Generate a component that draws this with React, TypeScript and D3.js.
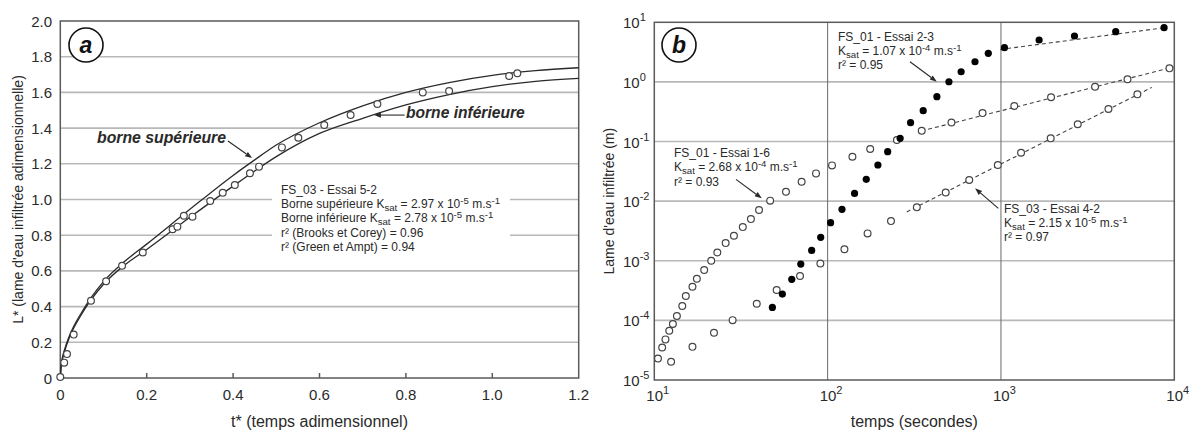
import React from 'react';
import * as d3 from 'd3';

// ---------- Panel a data ----------
const tStar = [0, 0.009, 0.0155, 0.031, 0.071, 0.106, 0.143, 0.191, 0.26, 0.271, 0.286, 0.306, 0.347, 0.376, 0.404, 0.439, 0.46, 0.513, 0.551, 0.611, 0.672, 0.734, 0.839, 0.9, 1.039, 1.058];
const lStar = [0.006, 0.086, 0.134, 0.243, 0.433, 0.542, 0.629, 0.703, 0.833, 0.848, 0.909, 0.904, 0.992, 1.038, 1.081, 1.147, 1.184, 1.292, 1.346, 1.417, 1.473, 1.535, 1.6, 1.608, 1.692, 1.707];
const upperT = [0, 0.002, 0.005, 0.01, 0.02, 0.05, 0.1, 0.15, 0.2, 0.3, 0.4, 0.45, 0.5, 0.6, 0.7, 0.8, 0.9, 1.0, 1.1, 1.2];
const upperL = [0, 0.07, 0.115, 0.16, 0.23, 0.37, 0.54, 0.655, 0.75, 0.945, 1.135, 1.222, 1.305, 1.43, 1.525, 1.6, 1.655, 1.695, 1.722, 1.738];
const lowerT = [0, 0.002, 0.005, 0.01, 0.02, 0.05, 0.1, 0.15, 0.2, 0.3, 0.4, 0.45, 0.5, 0.6, 0.7, 0.8, 0.9, 1.0, 1.1, 1.2];
const lowerL = [0, 0.065, 0.105, 0.15, 0.22, 0.36, 0.525, 0.635, 0.72, 0.9, 1.075, 1.16, 1.24, 1.37, 1.455, 1.53, 1.588, 1.632, 1.662, 1.679];
const xTicksA = [0, 0.2, 0.4, 0.6, 0.8, 1.0, 1.2];
const xTickLabelsA = ['0', '0.2', '0.4', '0.6', '0.8', '1.0', '1.2'];
const yTicksA = [0, 0.2, 0.4, 0.6, 0.8, 1.0, 1.2, 1.4, 1.6, 1.8, 2.0];
const yTickLabelsA = ['0', '0.2', '0.4', '0.6', '0.8', '1.0', '1.2', '1.4', '1.6', '1.8', '2.0'];

// ---------- Panel b data ----------
const essai16T = [10.5, 11.1, 11.6, 12.2, 12.8, 13.5, 14.5, 15.2, 16.6, 17.6, 19.4, 21.3, 23.1, 25.8, 28.8, 32.4, 36.1, 40.2, 46.6, 57.5, 70.8, 85.7, 106, 139, 176, 251, 349, 518, 783, 1194, 1945, 3491, 5370, 9376];
const essai16L = [2.3e-5, 3.5e-5, 4.8e-5, 6.7e-5, 8.7e-5, 1.18e-4, 1.74e-4, 2.56e-4, 3.66e-4, 5.0e-4, 7.0e-4, 1.0e-3, 1.38e-3, 1.98e-3, 2.63e-3, 3.67e-3, 5.0e-3, 7.1e-3, 1.02e-2, 1.44e-2, 2.12e-2, 2.92e-2, 3.98e-2, 5.56e-2, 7.48e-2, 0.106, 0.151, 0.209, 0.30, 0.394, 0.552, 0.832, 1.107, 1.69];
const essai23T = [48.0, 54.8, 62.1, 70.0, 80.9, 91.2, 104, 121, 143, 167, 195, 222, 262, 301, 356, 427, 501, 589, 708, 845, 1047, 1660, 2655, 4592, 8730];
const essai23L = [1.65e-4, 2.76e-4, 4.88e-4, 8.8e-4, 1.49e-3, 2.47e-3, 4.35e-3, 7.28e-3, 1.35e-2, 2.32e-2, 4.04e-2, 6.75e-2, 0.113, 0.207, 0.329, 0.565, 1.007, 1.48, 2.18, 3.02, 3.76, 5.05, 5.89, 6.95, 8.11];
const essai42T = [12.5, 16.6, 22.1, 28.3, 39.0, 50.8, 69.3, 90.8, 125, 170, 232, 327, 480, 656, 959, 1306, 1936, 2773, 4169, 6124];
const essai42L = [2.02e-5, 3.6e-5, 6.2e-5, 1.01e-4, 1.9e-4, 3.24e-4, 5.56e-4, 9.0e-4, 1.56e-3, 2.88e-3, 4.63e-3, 7.87e-3, 1.40e-2, 2.26e-2, 4.04e-2, 6.49e-2, 0.113, 0.195, 0.351, 0.619];
const fit16T = [347, 9900];
const fit16L = [0.15, 1.78];
const fit23T = [990, 8730];
const fit23L = [3.5, 8.1];
const fit42T = [286, 7413];
const fit42L = [6.6e-3, 0.81];
const xTicksB = [10, 100, 1000, 10000];
const xExpB = ['1', '2', '3', '4'];
const yTicksB = [1e-5, 1e-4, 1e-3, 1e-2, 1e-1, 1, 10];
const yExpB = ['-5', '-4', '-3', '-2', '-1', '0', '1'];

const FONT = '"Liberation Sans", Arial, Helvetica, sans-serif';
const GRID = '#b8b8b8';
const FRAME = '#5a5a5a';
const INK = '#2a2a2a';

type Seg = { t: string; k?: 'sub' | 'sup' };

function Rich({ x, y, segs, size = 12 }: { x: number; y: number; segs: Seg[]; size?: number }) {
  let cur = 0;
  const parts = segs.map((s, i) => {
    const target = s.k === 'sub' ? size * 0.22 : s.k === 'sup' ? -size * 0.3 : 0;
    const dy = target - cur;
    cur = target;
    return (
      <tspan key={i} dy={dy} fontSize={s.k ? size * 0.8 : size}>
        {s.t}
      </tspan>
    );
  });
  return (
    <text x={x} y={y} fontSize={size} fill={INK} fontFamily={FONT}>
      {parts}
    </text>
  );
}

function Arrow({ x1, y1, x2, y2 }: { x1: number; y1: number; x2: number; y2: number }) {
  const ang = Math.atan2(y2 - y1, x2 - x1);
  const L = 7, W = 2.6;
  const bx = x2 - L * Math.cos(ang), by = y2 - L * Math.sin(ang);
  const p1 = [bx + W * Math.sin(ang), by - W * Math.cos(ang)];
  const p2 = [bx - W * Math.sin(ang), by + W * Math.cos(ang)];
  return (
    <g>
      <line x1={x1} y1={y1} x2={bx} y2={by} stroke={INK} strokeWidth={1.1} />
      <path d={`M${x2},${y2}L${p1[0]},${p1[1]}L${p2[0]},${p2[1]}Z`} fill={INK} />
    </g>
  );
}

export default function App() {
  // Panel a scales
  const xa = d3.scaleLinear().domain([0, 1.2]).range([60.3, 578.7]);
  const ya = d3.scaleLinear().domain([0, 2]).range([378, 21]);
  const mkCurve = (T: number[], Lv: number[]) =>
    d3
      .line<[number, number]>()
      .x((d) => xa(d[0]))
      .y((d) => ya(d[1]))
      .curve(d3.curveMonotoneX)(T.map((t, i) => [t, Lv[i]] as [number, number])) || '';

  // Panel b scales
  const xb = d3.scaleLog().domain([10, 10000]).range([654.3, 1174.3]);
  const yb = d3.scaleLog().domain([1e-5, 10]).range([380, 22.3]);
  const fitPath = (T: number[], Lv: number[]) =>
    d3
      .line<[number, number]>()
      .x((d) => xb(d[0]))
      .y((d) => yb(d[1]))(T.map((t, i) => [t, Lv[i]] as [number, number])) || '';

  const aLeft = xa(0), aRight = xa(1.2), aTop = ya(2), aBot = ya(0);
  const bLeft = xb(10), bRight = xb(10000), bTop = yb(10), bBot = yb(1e-5);

  const ksat = (v: string, e: string): Seg[] => [
    { t: 'K' },
    { t: 'sat', k: 'sub' },
    { t: ` = ${v} x 10` },
    { t: e, k: 'sup' },
    { t: ' m.s' },
    { t: '-1', k: 'sup' },
  ];

  return (
    <svg
      width={1192}
      height={430}
      style={{ position: 'absolute', left: 0, top: 0, background: '#fff' }}
      fontFamily={FONT}
    >
      <rect x={0} y={0} width={1192} height={430} fill="#fff" />

      {/* ================= Panel a ================= */}
      <g>
        {yTicksA.slice(1, -1).map((v) => (
          <line key={v} x1={aLeft} x2={aRight} y1={ya(v)} y2={ya(v)} stroke={GRID} strokeWidth={1.6} />
        ))}
        {/* white box behind annotation */}
        <rect x={272} y={183} width={238} height={72} fill="#fff" />
        {/* frame */}
        <rect x={aLeft} y={aTop} width={aRight - aLeft} height={aBot - aTop} fill="none" stroke={FRAME} strokeWidth={1.5} />
        {/* x ticks */}
        {xTicksA.slice(1, -1).map((v) => (
          <line key={v} x1={xa(v)} x2={xa(v)} y1={aBot} y2={aBot - 5} stroke={FRAME} strokeWidth={1.5} />
        ))}
        {xTicksA.map((v, i) => (
          <text key={v} x={xa(v)} y={aBot + 22} textAnchor="middle" fontSize={15} fill={INK}>
            {xTickLabelsA[i]}
          </text>
        ))}
        {yTicksA.map((v, i) => (
          <text key={v} x={52} y={ya(v) + 5.5} textAnchor="end" fontSize={15} fill={INK}>
            {yTickLabelsA[i]}
          </text>
        ))}
        <text x={(aLeft + aRight) / 2} y={427} textAnchor="middle" fontSize={16} fill={INK}>
          t* (temps adimensionnel)
        </text>
        <text
          transform={`translate(23,${(aTop + aBot) / 2}) rotate(-90)`}
          textAnchor="middle"
          fontSize={14}
          fill={INK}
        >
          L* (lame d'eau infiltrée adimensionnelle)
        </text>

        {/* curves */}
        <path d={mkCurve(upperT, upperL)} fill="none" stroke={INK} strokeWidth={1.3} />
        <path d={mkCurve(lowerT, lowerL)} fill="none" stroke={INK} strokeWidth={1.3} />
        {/* points */}
        {tStar.map((t, i) => (
          <circle key={i} cx={xa(t)} cy={ya(lStar[i])} r={3.4} fill="#fff" stroke="#444" strokeWidth={1.2} />
        ))}

        {/* labels */}
        <text x={97} y={143} fontSize={15.8} fontWeight="bold" fontStyle="italic" fill={INK}>
          borne supérieure
        </text>
        <Arrow x1={xa(0.388)} y1={ya(1.328)} x2={xa(0.444)} y2={ya(1.232)} />
        <text x={406} y={118} fontSize={15.6} fontWeight="bold" fontStyle="italic" fill={INK}>
          borne inférieure
        </text>
        <Arrow x1={xa(0.797)} y1={ya(1.473)} x2={xa(0.726)} y2={ya(1.473)} />

        <Rich x={281} y={194} segs={[{ t: 'FS_03 - Essai 5-2' }]} />
        <Rich x={281} y={208} segs={[{ t: 'Borne supérieure ' }, ...ksat('2.97', '-5')]} />
        <Rich x={281} y={222} segs={[{ t: 'Borne inférieure ' }, ...ksat('2.78', '-5')]} />
        <Rich x={281} y={237} segs={[{ t: 'r² (Brooks et Corey) = 0.96' }]} />
        <Rich x={281} y={251} segs={[{ t: 'r² (Green et Ampt) = 0.94' }]} />

        {/* panel letter */}
        <circle cx={86} cy={45} r={17} fill="#fff" stroke="#111" strokeWidth={1.6} />
        <text x={86} y={53} textAnchor="middle" fontSize={23} fontWeight="bold" fontStyle="italic" fill="#111">
          a
        </text>
      </g>

      {/* ================= Panel b ================= */}
      <g>
        {yTicksB.slice(1, -1).map((v) => (
          <line key={v} x1={bLeft} x2={bRight} y1={yb(v)} y2={yb(v)} stroke={GRID} strokeWidth={1.6} />
        ))}
        {xTicksB.slice(1, -1).map((v) => (
          <line key={v} x1={xb(v)} x2={xb(v)} y1={bTop} y2={bBot} stroke="#6a6a6a" strokeWidth={1} />
        ))}
        <rect x={bLeft} y={bTop} width={bRight - bLeft} height={bBot - bTop} fill="none" stroke={FRAME} strokeWidth={1.5} />

        {xTicksB.map((v, i) => (
          <text key={v} x={xb(v) - 8} y={bBot + 21} fontSize={15} fill={INK}>
            10
            <tspan dy={-7} fontSize={11}>
              {xExpB[i]}
            </tspan>
          </text>
        ))}
        {yTicksB.map((v, i) => (
          <text key={v} x={623} y={yb(v) + 6} fontSize={15} fill={INK}>
            10
            <tspan dy={-7} fontSize={11}>
              {yExpB[i]}
            </tspan>
          </text>
        ))}
        <text x={(bLeft + bRight) / 2} y={427} textAnchor="middle" fontSize={16} fill={INK}>
          temps (secondes)
        </text>
        <text
          transform={`translate(614,${(bTop + bBot) / 2}) rotate(-90)`}
          textAnchor="middle"
          fontSize={14}
          fill={INK}
        >
          Lame d'eau infiltrée (m)
        </text>

        {/* fit lines */}
        <path d={fitPath(fit16T, fit16L)} fill="none" stroke="#444" strokeWidth={1.1} strokeDasharray="4,3" />
        <path d={fitPath(fit23T, fit23L)} fill="none" stroke="#444" strokeWidth={1.1} strokeDasharray="4,3" />
        <path d={fitPath(fit42T, fit42L)} fill="none" stroke="#444" strokeWidth={1.1} strokeDasharray="4,3" />

        {/* series */}
        {essai16T.map((t, i) => (
          <circle key={'a' + i} cx={xb(t)} cy={yb(essai16L[i])} r={3.4} fill="#fff" stroke="#444" strokeWidth={1.2} />
        ))}
        {essai42T.map((t, i) => (
          <circle key={'c' + i} cx={xb(t)} cy={yb(essai42L[i])} r={3.4} fill="#fff" stroke="#444" strokeWidth={1.2} />
        ))}
        {essai23T.map((t, i) => (
          <circle key={'b' + i} cx={xb(t)} cy={yb(essai23L[i])} r={3.6} fill="#000" />
        ))}

        {/* annotations */}
        <Rich x={838} y={41} segs={[{ t: 'FS_01 - Essai 2-3' }]} />
        <Rich x={838} y={55} segs={ksat('1.07', '-4')} />
        <Rich x={838} y={69} segs={[{ t: 'r² = 0.95' }]} />
        <Arrow x1={xb(298.5)} y1={yb(2.18)} x2={xb(426.6)} y2={yb(1.008)} />

        <Rich x={674} y={157} segs={[{ t: 'FS_01 - Essai 1-6' }]} />
        <Rich x={674} y={171} segs={ksat('2.68', '-4')} />
        <Rich x={674} y={186} segs={[{ t: 'r² = 0.93' }]} />
        <Arrow x1={xb(29.6)} y1={yb(0.0232)} x2={xb(41.7)} y2={yb(0.01114)} />

        <Rich x={1004} y={213} segs={[{ t: 'FS_03 - Essai 4-2' }]} />
        <Rich x={1004} y={227} segs={ksat('2.15', '-5')} />
        <Rich x={1004} y={241} segs={[{ t: 'r² = 0.97' }]} />
        <Arrow x1={xb(966)} y1={yb(7.57e-3)} x2={xb(709)} y2={yb(0.0164)} />

        <circle cx={679} cy={45} r={17} fill="#fff" stroke="#111" strokeWidth={1.6} />
        <text x={679} y={53} textAnchor="middle" fontSize={23} fontWeight="bold" fontStyle="italic" fill="#111">
          b
        </text>
      </g>
    </svg>
  );
}
